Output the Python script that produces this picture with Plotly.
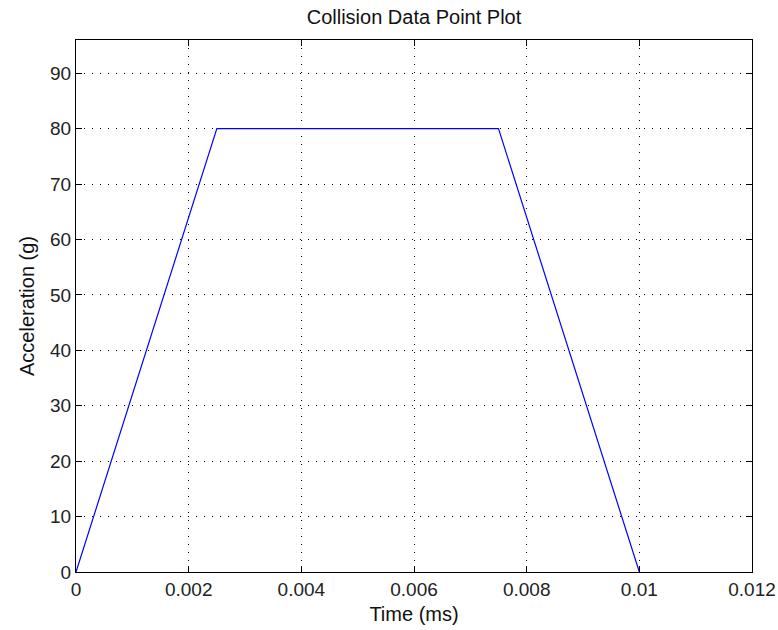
import plotly.graph_objects as go

# Collision pulse: time (ms) vs acceleration (g)
time_ms = [0.0, 0.0025, 0.0075, 0.01]
accel_g = [0, 80, 80, 0]

x_ticks = [0, 0.002, 0.004, 0.006, 0.008, 0.01, 0.012]
x_tick_text = ["0", "0.002", "0.004", "0.006", "0.008", "0.01", "0.012"]
y_ticks = [0, 10, 20, 30, 40, 50, 60, 70, 80, 90]

font_family = "Liberation Sans, Arial, sans-serif"

fig = go.Figure()
fig.add_trace(go.Scatter(
    x=time_ms, y=accel_g, mode="lines",
    line=dict(color="#0000ff", width=1.2),
    showlegend=False,
))

axis_common = dict(
    showline=True, linecolor="black", linewidth=1, mirror="ticks",
    ticks="inside", ticklen=6, tickcolor="black", tickwidth=1,
    showgrid=True, gridcolor="black", gridwidth=1, griddash="1px,7px",
    zeroline=False, automargin=False,
    tickfont=dict(family=font_family, size=19, color="#222222"),
)

fig.update_layout(
    width=778, height=630,
    paper_bgcolor="white", plot_bgcolor="white",
    margin=dict(l=76, r=26, t=40, b=58),
    title=dict(
        text="Collision Data Point Plot",
        x=(76 + 752) / 2 / 778, xanchor="center",
        y=1 - 17 / 630, yanchor="middle", yref="container",
        font=dict(family=font_family, size=20, color="#111111"),
    ),
    xaxis=dict(
        range=[0, 0.012], tickvals=x_ticks, ticktext=x_tick_text,
        title=dict(text="Time (ms)", standoff=8,
                   font=dict(family=font_family, size=20, color="#111111")),
        **axis_common,
    ),
    yaxis=dict(
        range=[0, 96], tickvals=y_ticks,
        title=dict(text="Acceleration (g)", standoff=10,
                   font=dict(family=font_family, size=20, color="#111111")),
        **axis_common,
    ),
)

fig.write_html("out.html")
